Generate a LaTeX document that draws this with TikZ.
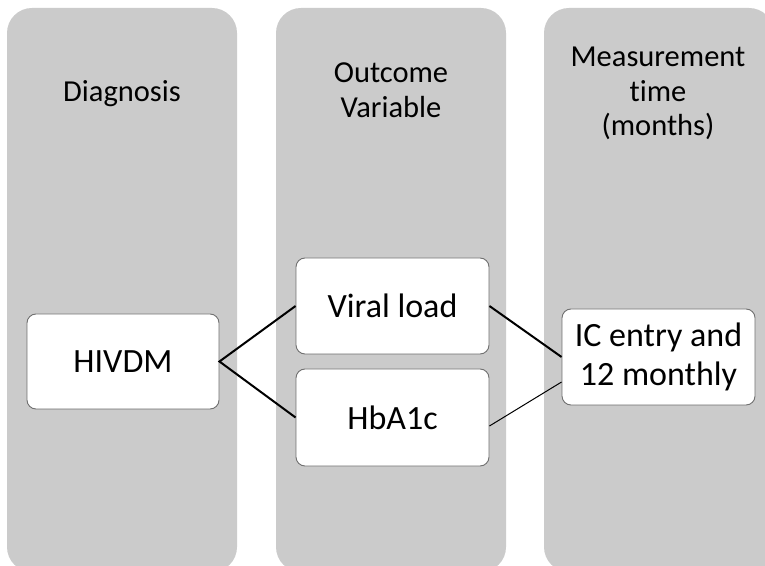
\documentclass[tikz,border=0pt]{standalone}
\usepackage{fontspec}
\setmainfont[Ligatures=NoCommon]{Carlito}
\definecolor{colbg}{RGB}{203,203,203}
\definecolor{boxline}{RGB}{112,112,112}
\newcommand{\mlines}[1]{\begin{tabular}[t]{@{}c@{}}#1\end{tabular}}
\tikzset{
  column/.style={fill=colbg, draw=none, rounded corners=25pt},
  title/.style={anchor=base, inner sep=0pt, font=\fontsize{30.5}{34.5}\selectfont},
  itembox/.style={draw=boxline, line width=0.9pt, fill=white, rounded corners=9pt,
    minimum width=193pt, minimum height=96pt, inner sep=0pt, align=center,
    font=\fontsize{34}{38.3}\selectfont},
  thick link/.style={line width=2pt, black},
  thin link/.style={line width=1pt, black}
}
\begin{document}
\begin{tikzpicture}[x=1pt,y=1pt]
\useasboundingbox (0,0) rectangle (765,565);
\clip (0,0) rectangle (765,565);
\fill[column] (7,-7) rectangle (237,557);
\fill[column] (276,-7) rectangle (506,557);
\fill[column] (544,-7) rectangle (774,557);

\node[title] (t1) at (122,463) {Diagnosis};
\node[title] (t2) at (391,482) {\mlines{Outcome\\Variable}};
\node[title] (t3) at (658,498) {\mlines{Measurement\\time\\(months)}};

\node[itembox, minimum width=192pt, minimum height=95pt] (hiv) at (123,203.5) {HIVDM};
\node[itembox] (vl) at (392.5,259) {Viral load};
\node[itembox, minimum height=97pt] (hb) at (392.5,147.5) {HbA1c};
\node[itembox] (ic) at (658.5,208) {IC entry and\\12 monthly};

\draw[thick link] (vl.west) -- (hiv.east) -- (hb.west);
\draw[thick link] (vl.east) -- (ic.west);
\draw[thin link] ([yshift=-8.5pt]hb.east) -- ([yshift=-25pt]ic.west);
\end{tikzpicture}
\end{document}
